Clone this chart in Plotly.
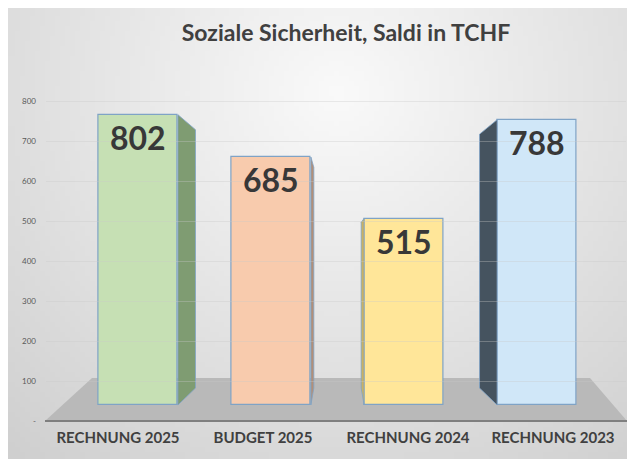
import base64
import struct
import zlib

import plotly.graph_objects as go

# ---------------- data ----------------
categories = ["RECHNUNG 2025", "BUDGET 2025", "RECHNUNG 2024", "RECHNUNG 2023"]
values = [802, 685, 515, 788]
value_labels = ["802", "685", "515", "788"]
ytick_vals = [0, 100, 200, 300, 400, 500, 600, 700, 800]
ytick_text = ["-", "100", "200", "300", "400", "500", "600", "700", "800"]
title_text = "Soziale Sicherheit, Saldi in TCHF"

# ---------------- styles ----------------
front_colors = ["#c6e0b4", "#f8cbad", "#ffe699", "#d0e7f8"]
side_colors = ["#7f9c72", "#b38f78", "#c9b263", "#45535f"]
edge_color = "#7fa3c6"
FONT = "Lato"

OFF = 8  # page body margin
W, H = 635 - OFF, 459 - OFF
ML, MR, MT, MB = 36 - OFF, 6, 81 - OFF, 38
PW, PH = W - ML - MR, H - MT - MB

# perspective helpers (data units)
BAR_W = 0.6
VP_X, VP_Y = 1.5, 425.0  # vanishing point
DEPTH = 0.11


def px_x(p):
    """reference page pixel -> paper x"""
    return (p - OFF - ML) / PW


def px_y(p):
    """reference page pixel -> paper y"""
    return (H - MB - (p - OFF)) / PH


# ---------------- background gradient image ----------------
def make_png(w, h, fn):
    raw = bytearray()
    for j in range(h):
        raw.append(0)
        for i in range(w):
            c = fn(i, j)
            raw.extend((c, c, c))

    def chunk(tag, data):
        c = struct.pack(">I", len(data)) + tag + data
        return c + struct.pack(">I", zlib.crc32(tag + data) & 0xFFFFFFFF)

    png = b"\x89PNG\r\n\x1a\n"
    png += chunk(b"IHDR", struct.pack(">IIBBBBB", w, h, 8, 2, 0, 0, 0))
    png += chunk(b"IDAT", zlib.compress(bytes(raw), 9))
    png += chunk(b"IEND", b"")
    return "data:image/png;base64," + base64.b64encode(png).decode()


GW, GH = 126, 90
SX, SY = W / GW, H / GH


def grad(i, j):
    x = OFF + i * SX
    y = OFF + j * SY
    d = ((x - 335) ** 2 + ((y - 90) * 1.05) ** 2) ** 0.5
    return int(max(200, min(250, 250 - 0.085 * d)))


bg_src = make_png(GW, GH, grad)

fig = go.Figure()

# invisible trace carrying the category axis labels
fig.add_trace(go.Scatter(x=categories, y=[0] * len(categories), xaxis="x2", yaxis="y",
                         mode="markers", marker=dict(opacity=0), hoverinfo="skip",
                         showlegend=False))

idx = list(range(len(categories)))

# side faces (perspective), derived from data values
for i, v in enumerate(values):
    xe = i + BAR_W / 2 if i < VP_X else i - BAR_W / 2
    xb = xe + DEPTH * (VP_X - xe)
    y_top_b = v + DEPTH * (VP_Y - v)
    y_bot_b = 0 + DEPTH * (VP_Y - 0)
    fig.add_trace(go.Scatter(x=[xe, xb, xb, xe, xe], y=[0, y_bot_b, y_top_b, v, 0],
                             xaxis="x", yaxis="y2", mode="lines", fill="toself",
                             fillcolor=side_colors[i], line=dict(color=edge_color, width=0.8),
                             hoverinfo="skip", showlegend=False))

# front faces
fig.add_trace(go.Bar(x=idx, y=values, xaxis="x", yaxis="y2", width=BAR_W,
                     marker=dict(color=front_colors, line=dict(color=edge_color, width=1.2)),
                     hoverinfo="skip", showlegend=False))

annotations = []
for i, (v, t) in enumerate(zip(values, value_labels)):
    annotations.append(dict(x=i, y=v, xref="x", yref="y2", text=t, showarrow=False,
                            yanchor="top", yshift=-1,
                            font=dict(family=FONT, size=32, color="#383838", weight=700)))

shapes = [
    # floor
    dict(type="path", xref="paper", yref="paper", layer="below",
         path=f"M {px_x(45)} {px_y(421)} L {px_x(92)} {px_y(378)} L {px_x(590)} {px_y(378)} "
              f"L {px_x(627)} {px_y(421)} Z",
         fillcolor="#b9b9b9", line=dict(width=0)),
    dict(type="line", xref="paper", yref="paper", layer="below",
         x0=px_x(45), x1=px_x(627), y0=px_y(421), y1=px_y(421),
         line=dict(color="#7f7f7f", width=2)),
]

fig.update_layout(
    width=W, height=H,
    margin=dict(l=ML, r=MR, t=MT, b=MB, autoexpand=False),
    paper_bgcolor="white", plot_bgcolor="rgba(0,0,0,0)",
    title=dict(text=title_text, x=(346 - OFF) / W, xref="container", xanchor="center",
               y=1 - (33 - OFF) / H, yref="container", yanchor="middle",
               font=dict(family=FONT, size=23, color="#404040", weight=700)),
    xaxis=dict(domain=[px_x(71.5), px_x(603.5)], range=[-0.5, 3.5], visible=False,
               anchor="y2"),
    xaxis2=dict(domain=[px_x(45.5), px_x(625.5)], type="category", range=[-0.5, 3.5],
                anchor="y", showgrid=False, zeroline=False, showline=False,
                ticks="", ticklabelstandoff=6,
                tickfont=dict(family=FONT, size=15, color="#404040", weight=700)),
    yaxis=dict(domain=[0, 1], range=[0, 850], anchor="free", position=0,
               tickvals=ytick_vals, ticktext=ytick_text, ticks="",
               tickfont=dict(family=FONT, size=8, color="#595959"),
               showgrid=True, gridcolor="rgba(200,200,200,0.35)", gridwidth=1,
               zeroline=False, showline=False),
    yaxis2=dict(overlaying="y", range=[-44.2, 895], visible=False),
    annotations=annotations,
    shapes=shapes,
    images=[dict(source=bg_src, xref="paper", yref="paper",
                 x=-ML / PW, y=1 + MT / PH, sizex=W / PW, sizey=H / PH,
                 xanchor="left", yanchor="top", sizing="stretch", layer="below")],
    bargap=0,
)

fig.write_html("out.html")
